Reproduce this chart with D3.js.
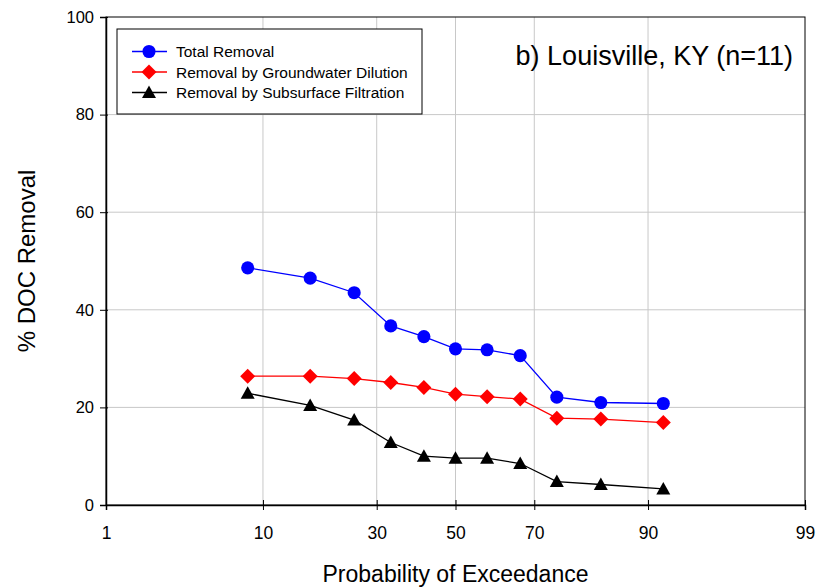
<!DOCTYPE html>
<html>
<head>
<meta charset="utf-8">
<script src="https://cdn.jsdelivr.net/npm/d3@7"></script>
<style>
  body { margin: 0; background: #fff; }
  svg { display: block; font-family: Arial, "Liberation Sans", sans-serif; }
</style>
</head>
<body>
<svg id="chart" width="824" height="587"></svg>
<script>
// Exceedance probabilities (%) for the 11 ranked samples, i/(n+1)
const probabilities = [8.33, 16.67, 25.0, 33.33, 41.67, 50.0, 58.33, 66.67, 75.0, 83.33, 91.67];
const totalRemoval = [48.6, 46.5, 43.5, 36.7, 34.5, 32.0, 31.8, 30.6, 22.1, 21.0, 20.8];
const dilutionRemoval = [26.4, 26.4, 25.9, 25.1, 24.1, 22.7, 22.2, 21.7, 17.8, 17.6, 16.9];
const filtrationRemoval = [22.9, 20.4, 17.4, 12.8, 10.0, 9.6, 9.6, 8.5, 4.8, 4.2, 3.3];
const xTicks = [1, 10, 30, 50, 70, 90, 99];
const yTicks = [0, 20, 40, 60, 80, 100];
const seriesNames = ["Total Removal", "Removal by Groundwater Dilution", "Removal by Subsurface Filtration"];

// Inverse standard normal CDF (Acklam's rational approximation)
function probit(p) {
  const a = [-3.969683028665376e+01, 2.209460984245205e+02, -2.759285104469687e+02, 1.383577518672690e+02, -3.066479806614716e+01, 2.506628277459239e+00];
  const b = [-5.447609879822406e+01, 1.615858368580409e+02, -1.556989798598866e+02, 6.680131188771972e+01, -1.328068155288572e+01];
  const c = [-7.784894002430293e-03, -3.223964580411365e-01, -2.400758277161838e+00, -2.549732539343734e+00, 4.374664141464968e+00, 2.938163982698783e+00];
  const d = [7.784695709041462e-03, 3.224671290700398e-01, 2.445134137142996e+00, 3.754408661907416e+00];
  const pl = 0.02425, ph = 1 - pl;
  let q, r;
  if (p < pl) {
    q = Math.sqrt(-2 * Math.log(p));
    return (((((c[0]*q+c[1])*q+c[2])*q+c[3])*q+c[4])*q+c[5]) / ((((d[0]*q+d[1])*q+d[2])*q+d[3])*q+1);
  } else if (p <= ph) {
    q = p - 0.5; r = q * q;
    return (((((a[0]*r+a[1])*r+a[2])*r+a[3])*r+a[4])*r+a[5])*q / (((((b[0]*r+b[1])*r+b[2])*r+b[3])*r+b[4])*r+1);
  } else {
    q = Math.sqrt(-2 * Math.log(1 - p));
    return -(((((c[0]*q+c[1])*q+c[2])*q+c[3])*q+c[4])*q+c[5]) / ((((d[0]*q+d[1])*q+d[2])*q+d[3])*q+1);
  }
}

const margin = { top: 17, right: 19, bottom: 82, left: 106 };
const width = 824 - margin.left - margin.right;
const height = 587 - margin.top - margin.bottom;

const svg = d3.select("#chart");
const g = svg.append("g").attr("transform", `translate(${margin.left},${margin.top})`);

// Normal-probability x scale: linear in z-score
const zScale = d3.scaleLinear().domain([probit(0.01), probit(0.99)]).range([0, width]);
const x = p => zScale(probit(p / 100));
const y = d3.scaleLinear().domain([0, 100]).range([height, 0]);

// Grid lines
g.append("g").selectAll("line")
  .data(xTicks.filter(t => t !== 1 && t !== 99))
  .join("line")
  .attr("x1", d => x(d)).attr("x2", d => x(d))
  .attr("y1", 0).attr("y2", height)
  .attr("stroke", "#c8c8c8").attr("stroke-width", 1);
g.append("g").selectAll("line")
  .data(yTicks.filter(t => t !== 0 && t !== 100))
  .join("line")
  .attr("x1", 0).attr("x2", width)
  .attr("y1", d => y(d)).attr("y2", d => y(d))
  .attr("stroke", "#c8c8c8").attr("stroke-width", 1);

// Frame
g.append("rect").attr("x", 0).attr("y", 0).attr("width", width).attr("height", height)
  .attr("fill", "none").attr("stroke", "#000").attr("stroke-width", 1);

// Axes (ticks cross the axis line)
const xAxis = g.append("g").attr("transform", `translate(0,${height})`)
  .call(d3.axisBottom(zScale).tickValues(xTicks.map(t => probit(t / 100)))
    .tickFormat((d, i) => xTicks[i]).tickSizeOuter(0).tickSize(5).tickPadding(17));
xAxis.select(".domain").attr("stroke", "#000").attr("stroke-width", 1.5);
xAxis.selectAll(".tick line").attr("y1", -5).attr("stroke", "#000");
xAxis.selectAll("text").attr("font-size", 17.5).attr("fill", "#000");

const yAxis = g.append("g")
  .call(d3.axisLeft(y).tickValues(yTicks).tickSizeOuter(0).tickSize(6).tickPadding(6));
yAxis.select(".domain").attr("stroke", "#000").attr("stroke-width", 1.5);
yAxis.selectAll(".tick line").attr("x1", 2).attr("stroke", "#000");
yAxis.selectAll("text").attr("font-size", 16.5).attr("fill", "#000");

// Axis titles
svg.append("text").attr("x", 455.5).attr("y", 582)
  .attr("text-anchor", "middle").attr("font-size", 23).text("Probability of Exceedance");
svg.append("text").attr("transform", "translate(35,261) rotate(-90)")
  .attr("text-anchor", "middle").attr("font-size", 24).text("% DOC Removal");

// Series
const series = [
  { name: seriesNames[0], values: totalRemoval, color: "#0000ff", marker: "circle" },
  { name: seriesNames[1], values: dilutionRemoval, color: "#ff0000", marker: "diamond" },
  { name: seriesNames[2], values: filtrationRemoval, color: "#000000", marker: "triangle" }
];

function markerPath(type) {
  if (type === "circle") return d3.symbol(d3.symbolCircle, 135)();
  if (type === "diamond") return "M0,-7.5L7.5,0L0,7.5L-7.5,0Z";
  return "M0,-7L7,5.5L-7,5.5Z";
}

const line = d3.line().x(d => x(d[0])).y(d => y(d[1]));
series.forEach(s => {
  const pts = probabilities.map((p, i) => [p, s.values[i]]);
  g.append("path").datum(pts).attr("d", line)
    .attr("fill", "none").attr("stroke", s.color).attr("stroke-width", 1.3);
  g.append("g").selectAll("path")
    .data(pts).join("path")
    .attr("transform", d => `translate(${x(d[0])},${y(d[1])})`)
    .attr("d", markerPath(s.marker))
    .attr("fill", s.color);
});

// Legend
const legend = svg.append("g").attr("transform", "translate(117,29)");
legend.append("rect").attr("width", 305).attr("height", 85)
  .attr("fill", "#fff").attr("stroke", "#000").attr("stroke-width", 1);
series.forEach((s, i) => {
  const ly = 22.5 + i * 20.5;
  legend.append("line").attr("x1", 15).attr("x2", 50).attr("y1", ly).attr("y2", ly)
    .attr("stroke", s.color).attr("stroke-width", 1.3);
  legend.append("path").attr("transform", `translate(32,${ly})`)
    .attr("d", markerPath(s.marker)).attr("fill", s.color);
  legend.append("text").attr("x", 59).attr("y", ly + 5.5)
    .attr("font-size", 15.5).attr("fill", "#000").text(s.name);
});

// Panel title
svg.append("text").attr("x", 793).attr("y", 65).attr("text-anchor", "end")
  .attr("font-size", 27).attr("fill", "#000").text("b) Louisville, KY (n=11)");
</script>
</body>
</html>
